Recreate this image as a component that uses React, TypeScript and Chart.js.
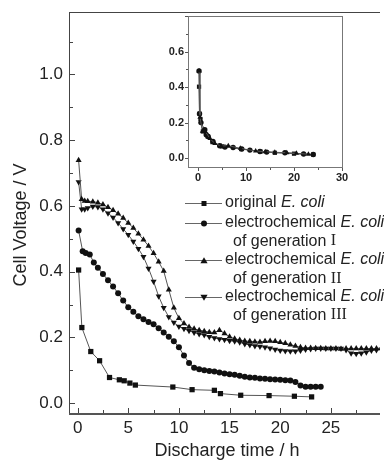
import React, { useEffect, useRef } from 'react';
import { Chart, registerables } from 'chart.js';
Chart.register(...registerables);

// ---------- main chart data ----------
const origX = [0.1, 0.42, 1.3, 2.17, 3.15, 4.12, 4.6, 5.16, 5.7, 9.4, 11.3, 13.5, 14.1, 16.1, 18.9, 21.4, 23.1];
const origY = [0.405, 0.23, 0.157, 0.129, 0.078, 0.071, 0.068, 0.061, 0.055, 0.049, 0.041, 0.039, 0.029, 0.024, 0.023, 0.021, 0.019];

const gen1X = [0.1, 0.5, 0.8, 1.2, 1.6, 2.0, 2.5, 3.0, 3.5, 4.0, 4.5, 5.0, 5.5, 6.0, 6.5, 7.0, 7.5, 8.0, 8.5, 9.0, 9.5, 10.0, 10.5, 11.0, 11.5, 12.0, 12.5, 13.0, 13.5, 14.0, 14.5, 15.0, 15.5, 16.0, 16.5, 17.0, 17.5, 18.0, 18.5, 19.0, 19.5, 20.0, 20.5, 21.0, 21.5, 22.0, 22.5, 23.0, 23.5, 24.0];
const gen1Y = [0.525, 0.462, 0.457, 0.452, 0.428, 0.412, 0.393, 0.374, 0.355, 0.334, 0.312, 0.292, 0.278, 0.264, 0.255, 0.247, 0.24, 0.228, 0.215, 0.202, 0.188, 0.17, 0.145, 0.122, 0.108, 0.103, 0.1, 0.098, 0.096, 0.093, 0.09, 0.088, 0.086, 0.083, 0.08, 0.078, 0.077, 0.075, 0.074, 0.073, 0.072, 0.071, 0.07, 0.069, 0.064, 0.054, 0.05, 0.05, 0.05, 0.05];

const gen2X = [0.1, 0.4, 0.7, 1.0, 1.5, 2.0, 2.5, 3.0, 3.5, 4.0, 4.5, 5.0, 5.5, 6.0, 6.5, 7.0, 7.5, 8.0, 8.5, 9.0, 9.5, 10.0, 10.5, 11.0, 11.5, 12.0, 12.5, 13.0, 13.5, 14.0, 14.5, 15.0, 15.5, 16.0, 16.5, 17.0, 17.5, 18.0, 18.5, 19.0, 19.5, 20.0, 20.5, 21.0, 21.5, 22.0, 22.5, 23.0, 23.5, 24.0, 24.5, 25.0, 25.5, 26.0, 26.5, 27.0, 27.5, 28.0, 28.5, 29.0, 29.5, 30.0];
const gen2Y = [0.739, 0.62, 0.615, 0.614, 0.613, 0.61, 0.604, 0.596, 0.587, 0.576, 0.563, 0.548, 0.533, 0.515, 0.497, 0.478, 0.456, 0.43, 0.402, 0.345, 0.29, 0.258, 0.242, 0.232, 0.226, 0.222, 0.219, 0.216, 0.215, 0.222, 0.212, 0.202, 0.196, 0.192, 0.189, 0.188, 0.187, 0.186, 0.188, 0.189, 0.188, 0.185, 0.182, 0.178, 0.174, 0.17, 0.168, 0.168, 0.167, 0.167, 0.166, 0.166, 0.166, 0.165, 0.166, 0.166, 0.166, 0.166, 0.166, 0.166, 0.166, 0.166];

const gen3X = [0.1, 0.4, 0.7, 1.0, 1.5, 2.0, 2.5, 3.0, 3.5, 4.0, 4.5, 5.0, 5.5, 6.0, 6.5, 7.0, 7.5, 8.0, 8.5, 9.0, 9.5, 10.0, 10.5, 11.0, 11.5, 12.0, 12.5, 13.0, 13.5, 14.0, 14.5, 15.0, 15.5, 16.0, 16.5, 17.0, 17.5, 18.0, 18.5, 19.0, 19.5, 20.0, 20.5, 21.0, 21.5, 22.0, 22.5, 23.0, 23.5, 24.0, 24.5, 25.0, 25.5, 26.0, 26.5, 27.0, 27.5, 28.0, 28.5, 29.0, 29.5, 30.0];
const gen3Y = [0.673, 0.59, 0.59, 0.594, 0.598, 0.597, 0.59, 0.578, 0.565, 0.548, 0.53, 0.512, 0.492, 0.47, 0.445, 0.41, 0.37, 0.325, 0.29, 0.262, 0.245, 0.233, 0.226, 0.22, 0.215, 0.21, 0.207, 0.202, 0.198, 0.195, 0.193, 0.19, 0.188, 0.185, 0.18, 0.177, 0.174, 0.172, 0.17, 0.167, 0.163, 0.16, 0.159, 0.158, 0.158, 0.16, 0.163, 0.165, 0.166, 0.166, 0.166, 0.166, 0.166, 0.166, 0.162, 0.152, 0.15, 0.152, 0.155, 0.16, 0.162, 0.164];

// ---------- inset data ----------
const inSqX = [0.2, 0.3, 0.5, 1.0, 2.0, 3.0, 5.0, 9.0, 13.0, 16.0, 20.0, 24.0];
const inSqY = [0.402, 0.25, 0.22, 0.15, 0.122, 0.09, 0.066, 0.051, 0.037, 0.03, 0.025, 0.02];
const inCiX = [0.2, 0.3, 0.6, 1.4, 1.7, 2.1, 3.1, 4.5, 5.6, 7.3, 9.1, 10.8, 12.9, 14.3, 18.1, 22.0, 24.0];
const inCiY = [0.49, 0.25, 0.2, 0.16, 0.132, 0.122, 0.094, 0.07, 0.062, 0.06, 0.051, 0.045, 0.037, 0.034, 0.03, 0.023, 0.02];
const inTrX = [0.2, 0.4, 0.9, 1.5, 2.5, 3.5, 4.8, 6.3, 8.8, 12.0, 14.0, 16.0, 18.5, 20.5, 23.0];
const inTrY = [0.49, 0.23, 0.151, 0.15, 0.11, 0.082, 0.068, 0.07, 0.055, 0.04, 0.036, 0.033, 0.03, 0.027, 0.022];

// ---------- tick / legend text ----------
const legendMain = ['original', 'electrochemical', 'electrochemical', 'electrochemical'];
const legendItalic = ['E. coli', 'E. coli', 'E. coli', 'E. coli'];
const legendSub = ['', 'of generation ', 'of generation ', 'of generation '];
const legendRoman = ['', 'I', 'II', 'III'];
const legendMarkers = ['rect', 'circle', 'up', 'down'];
const xTitle = 'Discharge time / h';
const yTitle = 'Cell Voltage / V';

const SANS = '"Liberation Sans", Arial, Helvetica, sans-serif';
const SERIF = '"Liberation Serif", "Times New Roman", serif';

function pts(xs: number[], ys: number[]) {
  return xs.map((x, i) => ({ x, y: ys[i] }));
}

function ds(xs: number[], ys: number[], style: string, r: number, rot = 0) {
  return {
    data: pts(xs, ys),
    showLine: true,
    borderColor: '#555',
    borderWidth: 1,
    pointStyle: style,
    pointRadius: r,
    pointRotation: rot,
    pointBackgroundColor: '#111',
    pointBorderColor: '#111',
    pointBorderWidth: 0,
  };
}

function marker(ctx: CanvasRenderingContext2D, style: string, cx: number, cy: number, s: number) {
  ctx.beginPath();
  if (style === 'rect') ctx.rect(cx - s / 2, cy - s / 2, s, s);
  else if (style === 'circle') ctx.arc(cx, cy, s / 2, 0, Math.PI * 2);
  else if (style === 'up') {
    ctx.moveTo(cx, cy - s * 0.55);
    ctx.lineTo(cx + s * 0.6, cy + s * 0.45);
    ctx.lineTo(cx - s * 0.6, cy + s * 0.45);
    ctx.closePath();
  } else {
    ctx.moveTo(cx, cy + s * 0.55);
    ctx.lineTo(cx + s * 0.6, cy - s * 0.45);
    ctx.lineTo(cx - s * 0.6, cy - s * 0.45);
    ctx.closePath();
  }
  ctx.fill();
}

const isMult = (v: number, m: number) => Math.abs(v / m - Math.round(v / m)) < 1e-6;

function fixPad(s: any) {
  s.paddingTop = 0;
  s.paddingBottom = 0;
  s.paddingLeft = 0;
  s.paddingRight = 0;
}

const mainPlugin = {
  id: 'mainDecor',
  afterDraw(chart: any) {
    const { ctx, chartArea: a, scales } = chart;
    const x = scales.x, y = scales.y;
    const L = Math.round(a.left), R = Math.round(a.right), T = Math.round(a.top), B = Math.round(a.bottom);
    ctx.save();
    ctx.fillStyle = '#444';
    // frame: top, left, bottom
    ctx.fillRect(L, T, R - L, 1);
    ctx.fillRect(L, T, 1, B - T + 1);
    ctx.fillStyle = '#555';
    ctx.fillRect(L, B, R - L, 2);
    ctx.fillStyle = '#444';
    // ticks inward
    x.ticks.forEach((t: any) => {
      if (t.value < -1e-9) return;
      const px = Math.round(x.getPixelForValue(t.value));
      const len = isMult(t.value, 5) ? 5 : 3;
      ctx.fillRect(px, B - len, 1, len);
    });
    y.ticks.forEach((t: any) => {
      if (t.value < -1e-9) return;
      const py = Math.round(y.getPixelForValue(t.value));
      const len = isMult(t.value, 0.2) ? 5 : 3;
      ctx.fillRect(L, py, len + 1, 1);
    });
    // axis titles
    ctx.fillStyle = '#222';
    ctx.font = `18px ${SANS}`;
    ctx.textAlign = 'center';
    ctx.textBaseline = 'middle';
    ctx.fillText(xTitle, 227, 451);
    ctx.save();
    ctx.translate(21, 225);
    ctx.rotate(-Math.PI / 2);
    ctx.fillText(yTitle, 0, 0);
    ctx.restore();
    // legend
    const rows = [202.7, 222.7, 260, 296.7];
    ctx.textAlign = 'left';
    for (let i = 0; i < legendMain.length; i++) {
      const ry = rows[i];
      const ly = Math.round(ry);
      ctx.fillStyle = '#666';
      ctx.fillRect(185, ly, 37, 1);
      ctx.fillStyle = '#111';
      marker(ctx, legendMarkers[i], 204, ly + 0.5, i === 0 ? 5 : 6);
      ctx.fillStyle = '#222';
      let xx = 225;
      ctx.font = `16px ${SANS}`;
      const t1 = legendMain[i] + ' ';
      ctx.fillText(t1, xx, ry);
      xx += ctx.measureText(t1).width;
      ctx.font = `italic 16px ${SANS}`;
      ctx.fillText(legendItalic[i], xx, ry);
      if (legendSub[i]) {
        const sy = ry + 18.5;
        let sx = 233;
        ctx.font = `16px ${SANS}`;
        ctx.fillText(legendSub[i], sx, sy);
        sx += ctx.measureText(legendSub[i]).width;
        ctx.font = `16px ${SERIF}`;
        ctx.fillText(legendRoman[i], sx, sy);
      }
    }
    ctx.restore();
  },
};

const insetPlugin = {
  id: 'insetDecor',
  afterDraw(chart: any) {
    const { ctx, chartArea: a, scales } = chart;
    const x = scales.x, y = scales.y;
    const L = Math.round(a.left), R = Math.round(a.right), T = Math.round(a.top), B = Math.round(a.bottom);
    ctx.save();
    ctx.fillStyle = '#777';
    ctx.fillRect(L, T, R - L + 1, 1);
    ctx.fillRect(L, B, R - L + 1, 1);
    ctx.fillRect(L, T, 1, B - T + 1);
    ctx.fillRect(R, T, 1, B - T + 1);
    ctx.fillStyle = '#555';
    x.ticks.forEach((t: any) => {
      if (t.value < -1e-9) return;
      const px = Math.round(x.getPixelForValue(t.value));
      const len = isMult(t.value, 10) ? 3 : 2;
      ctx.fillRect(px, B + 1, 1, len);
    });
    y.ticks.forEach((t: any) => {
      if (t.value < -1e-9) return;
      const py = Math.round(y.getPixelForValue(t.value));
      const len = isMult(t.value, 0.2) ? 3 : 2;
      ctx.fillRect(L - len, py, len, 1);
    });
    ctx.restore();
  },
};

export default function App() {
  const mainRef = useRef<HTMLCanvasElement>(null);
  const insetRef = useRef<HTMLCanvasElement>(null);

  useEffect(() => {
    Chart.defaults.font.family = SANS;
    const main = new Chart(mainRef.current as HTMLCanvasElement, {
      type: 'scatter',
      data: {
        datasets: [
          ds(gen2X, gen2Y, 'triangle', 3.5),
          ds(gen3X, gen3Y, 'triangle', 3.5, 180),
          ds(gen1X, gen1Y, 'circle', 3),
          ds(origX, origY, 'rect', 3.7),
        ] as any,
      },
      options: {
        animation: false,
        responsive: false,
        layout: { padding: { top: 12, right: 0, left: 0, bottom: 0 } },
        plugins: { legend: { display: false }, tooltip: { enabled: false } },
        scales: {
          x: {
            type: 'linear',
            min: -0.85,
            max: 29.85,
            afterFit: (s: any) => { s.height = 50; fixPad(s); },
            grid: { display: false, drawTicks: false },
            border: { display: false },
            ticks: {
              stepSize: 2.5,
              includeBounds: false,
              autoSkip: false,
              maxRotation: 0,
              padding: 5,
              color: '#222',
              font: { size: 17 },
              callback: (v: any) => (isMult(Number(v), 5) && Number(v) >= 0 ? String(Math.round(Number(v))) : ''),
            },
          },
          y: {
            type: 'linear',
            min: -0.03,
            max: 1.19,
            afterFit: (s: any) => { s.width = 69; fixPad(s); },
            grid: { display: false, drawTicks: false },
            border: { display: false },
            ticks: {
              stepSize: 0.1,
              includeBounds: false,
              autoSkip: false,
              padding: 6,
              color: '#222',
              font: { size: 17 },
              callback: (v: any) => (isMult(Number(v), 0.2) && Number(v) >= -1e-9 ? Math.abs(Number(v)).toFixed(1) : ''),
            },
          },
        },
      } as any,
      plugins: [mainPlugin],
    });

    const inset = new Chart(insetRef.current as HTMLCanvasElement, {
      type: 'scatter',
      data: {
        datasets: [
          ds(inTrX, inTrY, 'triangle', 3),
          ds(inCiX, inCiY, 'circle', 2.7),
          ds(inSqX, inSqY, 'rect', 3),
        ] as any,
      },
      options: {
        animation: false,
        responsive: false,
        layout: { padding: { top: 16, right: 8, left: 0, bottom: 0 } },
        plugins: { legend: { display: false }, tooltip: { enabled: false } },
        scales: {
          x: {
            type: 'linear',
            min: -2.1,
            max: 30,
            afterFit: (s: any) => { s.height = 23; fixPad(s); },
            grid: { display: false, drawTicks: false },
            border: { display: false },
            ticks: {
              stepSize: 5,
              includeBounds: false,
              autoSkip: false,
              maxRotation: 0,
              padding: 4,
              color: '#222',
              font: { size: 11, weight: 'bold' },
              callback: (v: any) => (isMult(Number(v), 10) && Number(v) >= 0 ? String(Math.round(Number(v))) : ''),
            },
          },
          y: {
            type: 'linear',
            min: -0.05,
            max: 0.8,
            afterFit: (s: any) => { s.width = 23; fixPad(s); },
            grid: { display: false, drawTicks: false },
            border: { display: false },
            ticks: {
              stepSize: 0.1,
              includeBounds: false,
              autoSkip: false,
              padding: 4,
              color: '#222',
              font: { size: 11, weight: 'bold' },
              callback: (v: any) => (isMult(Number(v), 0.2) && Number(v) >= -1e-9 && Number(v) < 0.75 ? Math.abs(Number(v)).toFixed(1) : ''),
            },
          },
        },
      } as any,
      plugins: [insetPlugin],
    });

    return () => {
      main.destroy();
      inset.destroy();
    };
  }, []);

  return (
    <div style={{ position: 'fixed', left: 0, top: 0, width: 384, height: 463, background: '#fff' }}>
      <canvas ref={mainRef} width={384} height={463} style={{ position: 'absolute', left: 0, top: 0, width: 384, height: 463 }} />
      <canvas ref={insetRef} width={185} height={190} style={{ position: 'absolute', left: 165, top: 0, width: 185, height: 190 }} />
    </div>
  );
}
